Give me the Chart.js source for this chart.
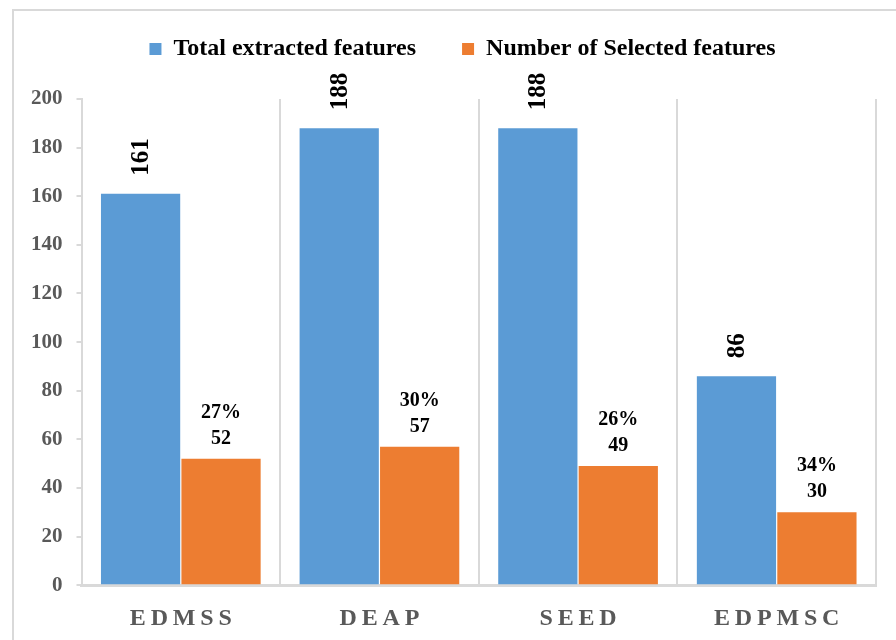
<!DOCTYPE html>
<html>
<head>
<meta charset="utf-8">
<script src="https://cdn.jsdelivr.net/npm/chart.js@4/dist/chart.umd.min.js"></script>
<style>
  html, body { margin: 0; padding: 0; background: #fff; overflow: hidden; }
  #wrap { position: relative; width: 896px; height: 640px; }
  #frame { position: absolute; left: 12px; top: 9px; width: 1000px; height: 1000px;
           border: 2px solid #d9d9d9; box-sizing: border-box; pointer-events: none; }
  canvas { position: absolute; left: 0; top: 0; }
</style>
</head>
<body>
<div id="wrap">
  <div id="frame"></div>
  <canvas id="c" width="896" height="640"></canvas>
</div>
<script>
// Datasets and their feature counts
const categories = ['EDMSS', 'DEAP', 'SEED', 'EDPMSC'];
const totalFeatures = [161, 188, 188, 86];
const selectedFeatures = [52, 57, 49, 30];
const selectedShare = ['27%', '30%', '26%', '34%'];
const yTicks = [0, 20, 40, 60, 80, 100, 120, 140, 160, 180, 200];

const SERIF = '"Liberation Serif", "Times New Roman", serif';
const GRID = '#d9d9d9';

// Legend row: extra room below it, and nudged right/up after layout
const legendPlacement = {
  id: 'legendPlacement',
  beforeInit(chart) {
    const fit = chart.legend.fit;
    chart.legend.fit = function () {
      fit.call(this);
      this.height += 19;
    };
  },
  afterLayout(chart) {
    const lg = chart.legend;
    lg.left += 16; lg.right += 16;
    lg.top -= 9; lg.bottom -= 9;
  }
};

// Value labels: rotated totals above blue bars, share + count above orange bars
const barLabels = {
  id: 'barLabels',
  afterDatasetsDraw(chart) {
    const ctx = chart.ctx;
    ctx.save();
    ctx.fillStyle = '#000';
    const m0 = chart.getDatasetMeta(0);
    m0.data.forEach((bar, i) => {
      ctx.save();
      ctx.translate(bar.x + 1, bar.y - 18);
      ctx.rotate(-Math.PI / 2);
      ctx.font = 'bold 25px ' + SERIF;
      ctx.textAlign = 'left';
      ctx.textBaseline = 'middle';
      ctx.fillText(String(totalFeatures[i]), 0, 0);
      ctx.restore();
    });
    const m1 = chart.getDatasetMeta(1);
    m1.data.forEach((bar, i) => {
      ctx.font = 'bold 20px ' + SERIF;
      ctx.textAlign = 'center';
      ctx.textBaseline = 'alphabetic';
      ctx.fillText(String(selectedFeatures[i]), bar.x, bar.y - 15);
      ctx.fillText(selectedShare[i], bar.x, bar.y - 41);
    });
    ctx.restore();
  }
};

new Chart(document.getElementById('c'), {
  type: 'bar',
  data: {
    labels: categories,
    datasets: [
      { label: 'Total extracted features', data: totalFeatures,
        backgroundColor: '#5b9bd5', borderWidth: 0 },
      { label: 'Number of Selected features', data: selectedFeatures,
        backgroundColor: '#ed7d31', borderWidth: 0 }
    ]
  },
  options: {
    responsive: false,
    animation: false,
    devicePixelRatio: 1,
    layout: { padding: { left: 17, right: 20, top: 0, bottom: -12 } },
    datasets: { bar: { categoryPercentage: 0.81, barPercentage: 0.985 } },
    plugins: {
      tooltip: { enabled: false },
      legend: {
        position: 'top',
        labels: {
          boxWidth: 12, boxHeight: 12, padding: 46,
          color: '#000',
          font: { family: SERIF, size: 24, weight: 'bold' }
        }
      }
    },
    scales: {
      x: {
        grid: { display: true, offset: true, drawOnChartArea: true, drawTicks: false,
                color: GRID, lineWidth: 2 },
        border: { display: true, color: GRID, width: 3 },
        ticks: {
          padding: 19, color: '#595959',
          font: { family: SERIF, size: 24, weight: 'bold' },
          callback: function (v) { return this.getLabelForValue(v).split('').join('\u2009'); }
        }
      },
      y: {
        min: 0, max: 200,
        afterBuildTicks(scale) { scale.ticks = yTicks.map(v => ({ value: v })); },
        grid: { display: true, drawOnChartArea: false, drawTicks: true, tickLength: 5,
                color: GRID, lineWidth: 2 },
        border: { display: true, color: GRID, width: 2 },
        ticks: {
          padding: 14, color: '#595959',
          font: { family: SERIF, size: 21, weight: 'bold' }
        }
      }
    }
  },
  plugins: [legendPlacement, barLabels]
});
</script>
</body>
</html>
